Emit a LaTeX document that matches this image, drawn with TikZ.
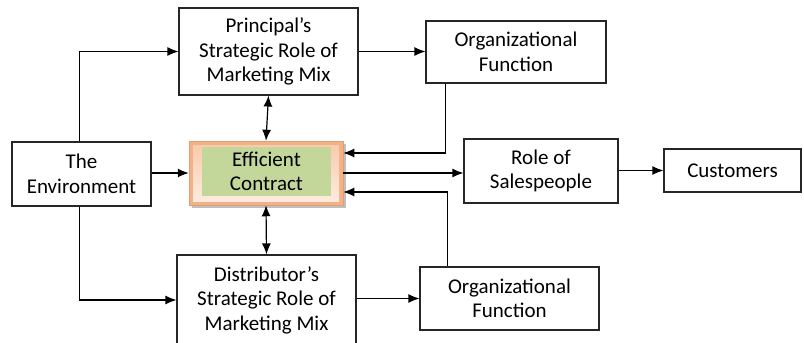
\documentclass[tikz,border=0pt]{standalone}
\usepackage{fontspec}
\setmainfont{Carlito}
\usetikzlibrary{arrows.meta}
\definecolor{edgeor}{HTML}{F4B183}
\definecolor{midor}{HTML}{F8CBAD}
\definecolor{lightor}{HTML}{FDEBDF}
\definecolor{boxgreen}{HTML}{C4D79B}
\begin{document}
\begin{tikzpicture}[x=1pt,y=-1pt,
  box/.style={draw=black!85,line width=1.1pt,inner sep=0pt,align=center,
    font=\fontsize{21}{24.5}\selectfont},
  arr/.style={line width=1.2pt,-{Latex[length=11pt,width=9pt]}},
  darr/.style={line width=1.2pt,{Latex[length=11pt,width=9pt]}-{Latex[length=11pt,width=9pt]}}]
\useasboundingbox (0,0) rectangle (804,343);
\begin{scope}
\clip (0,0) rectangle (804,343);
\node[box,minimum width=179pt,minimum height=87pt] (prin) at (268.5,51.5) {Principal’s\\Strategic Role of\\Marketing Mix};
\node[box,minimum width=180pt,minimum height=62pt] (org1) at (516,52) {Organizational\\Function};
\node[box,minimum width=139pt,minimum height=64pt] (env) at (81.5,174) {The\\Environment};
% efficient contract
\fill[black!25] (192,144) rectangle (346,208);
\node[fill=edgeor,draw=edgeor!90!black,line width=0.5pt,minimum width=154pt,minimum height=64pt,inner sep=0pt] (eff) at (266,173) {};
\shade[top color=midor,bottom color=lightor] (193,145) rectangle (339,201);
\node[box,draw=none,fill=boxgreen,minimum width=129pt,minimum height=49pt] (effin) at (266.5,171.5) {Efficient\\Contract};
\node[box,minimum width=154pt,minimum height=64pt] (role) at (541,171) {Role of\\Salespeople};
\node[box,minimum width=137pt,minimum height=43pt] (cust) at (732.5,170.5) {Customers};
\node[box,minimum width=179pt,minimum height=90pt] (dist) at (266.5,300) {Distributor’s\\Strategic Role of\\Marketing Mix};
\node[box,minimum width=179pt,minimum height=63pt] (org2) at (509.5,298.5) {Organizational\\Function};
\end{scope}
% connectors
\draw[arr] ([xshift=-2pt]env.north) |- (prin.west);
\draw[arr] (prin.east) -- (prin.east -| org1.west);
\draw[arr] ([xshift=20pt]org1.south west) |- ([yshift=20pt]eff.east);
\draw[darr] (prin.south) -- (eff.north);
\draw[arr] (env.east |- eff.west) -- (eff.west);
\draw[arr] (eff.east) -- (eff.east -| role.west);
\draw[arr] (role.east |- cust.west) -- (cust.west);
\draw[arr] ([xshift=28pt]org2.north west) |- ([yshift=-19pt]eff.east);
\draw[darr] (eff.south) -- (dist.north);
\draw[arr] ([xshift=-2pt]env.south) |- (dist.west);
\draw[arr] (dist.east |- org2.west) -- (org2.west);
\end{tikzpicture}
\end{document}
